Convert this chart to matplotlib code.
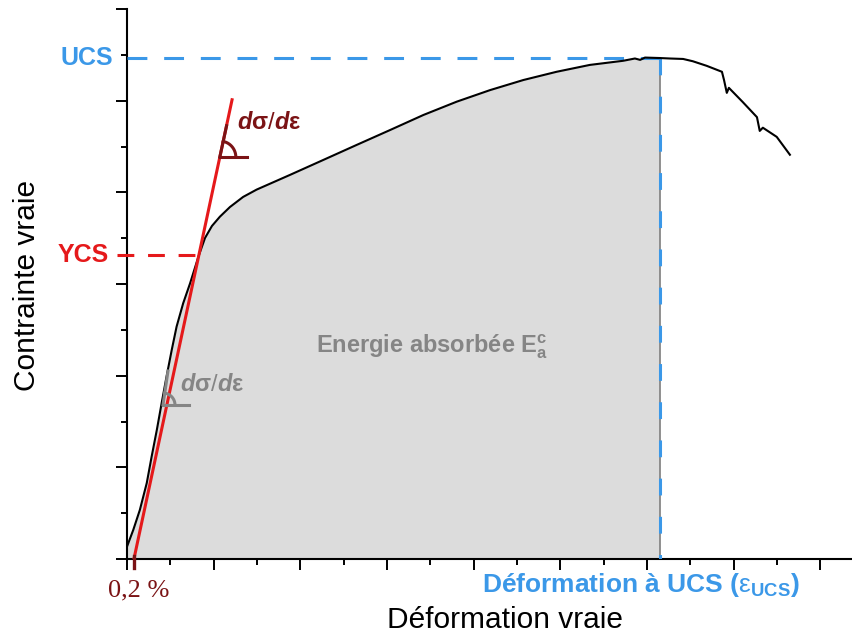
import numpy as np
import matplotlib.pyplot as plt
from matplotlib.ticker import MultipleLocator

plt.rcParams['font.family'] = ['Liberation Sans', 'DejaVu Sans']
plt.rcParams['mathtext.fontset'] = 'custom'
plt.rcParams['mathtext.rm'] = 'Liberation Sans'
plt.rcParams['mathtext.it'] = 'Liberation Sans:italic'
plt.rcParams['mathtext.bf'] = 'Liberation Sans:bold'
plt.rcParams['mathtext.bfit'] = 'Liberation Sans:italic:bold'

# courbe contrainte-deformation
strain = [0.0, 0.0018, 0.0037, 0.0057, 0.0071, 0.0086, 0.0100, 0.0114, 0.0129, 0.0143,
          0.0162, 0.0182, 0.0206, 0.0225, 0.0245, 0.0268, 0.0297, 0.0335, 0.0374, 0.0470,
          0.0566, 0.0662, 0.0759, 0.0855, 0.0951, 0.1047, 0.1143, 0.1239, 0.1335, 0.1431,
          0.1465, 0.1480, 0.1494, 0.1537, 0.1566, 0.1604, 0.1632, 0.1672, 0.1716, 0.1722,
          0.1730, 0.1736, 0.1776, 0.1817, 0.1825, 0.1834, 0.1874, 0.1912]
stress = [2.7, 6.33, 10.69, 16.58, 22.32, 28.15, 34.04, 39.78, 45.6, 50.69,
          55.79, 60.16, 65.96, 70.04, 72.66, 74.69, 76.8, 79.0, 80.6, 83.8,
          87.06, 90.33, 93.6, 96.88, 99.78, 102.3, 104.5, 106.3, 107.8, 108.7,
          109.2, 108.9, 109.4, 109.3, 109.2, 109.1, 108.6, 107.6, 106.3, 104.5,
          101.7, 102.8, 99.7, 96.4, 93.4, 94.1, 92.1, 88.2]

eps_offset = 0.002      # 0,2 %
E_tangent = 3540        # pente de la droite
tangent_top = 100.2
ycs = 66.3
ucs = 109.3
eps_ucs = 0.1537

red = '#e5191b'
dark_red = '#7b1315'
blue = '#3b98e8'
grey = '#858585'

strain = np.array(strain)
stress = np.array(stress)

fig = plt.figure(figsize=(8.53, 6.34), dpi=100)
ax = fig.add_axes([127/853, 75/634, 726/853, 550/634])
ax.set_xlim(0, 0.2094)
ax.set_ylim(0, 120)

# echelle px -> donnees (pour les petits symboles d'angle)
sx = 0.025 / 86.7
sy = 20 / 91.67

# aire sous la courbe
m = strain <= eps_ucs
ax.fill_between(strain[m], stress[m], color='#dcdcdc', lw=0, zorder=1)
ax.plot([eps_ucs, eps_ucs], [0, ucs], color='#7f7f7f', lw=1.2, zorder=2)

# courbe
ax.plot(strain, stress, color='black', lw=1.5, zorder=4, solid_joinstyle='round')

# droite a 0,2 %
x_top = eps_offset + tangent_top / E_tangent
ax.plot([eps_offset, x_top], [0, tangent_top], color=red, lw=2.2, zorder=5)
x_ycs = eps_offset + ycs / E_tangent
ax.plot([-0.0029, x_ycs], [ycs, ycs], color=red, lw=2.2, dashes=(5.5, 4.5), clip_on=False, zorder=5)
ax.plot([eps_offset, eps_offset], [0.6, -2.0], color=dark_red, lw=2.4, clip_on=False, zorder=6)

# UCS
ax.plot([0, eps_ucs], [ucs, ucs], color=blue, lw=2.2, dashes=(6.5, 5.5), zorder=3)
ax.plot([eps_ucs, eps_ucs], [ucs, 0], color=blue, lw=2.2, dashes=(5.5, 7), zorder=3)


def angle_mark(x0, y0, ang, l_up, l_h, r, color):
    a = np.deg2rad(ang)
    ax.plot([x0, x0 + l_up*np.cos(a)*sx], [y0, y0 + l_up*np.sin(a)*sy], color=color, lw=2.2, zorder=6)
    ax.plot([x0, x0 + l_h*sx], [y0, y0], color=color, lw=2.2, zorder=6)
    t = np.linspace(0, a, 20)
    ax.plot(x0 + r*np.cos(t)*sx, y0 + r*np.sin(t)*sy, color=color, lw=2.2, zorder=6)


y_mark = 87.7
angle_mark(eps_offset + y_mark / E_tangent, y_mark, 77.8, 32, 27, 16, dark_red)
angle_mark(0.01038, 33.6, 81.6, 34.4, 26, 12, grey)

ax.text(0.0317, 95.1, r'$\mathbfit{d}\mathbf{σ}/\mathbfit{d}\mathbf{ε}$', color=dark_red,
        fontsize=17, ha='left', va='center', zorder=7)
ax.text(0.0153, 38.0, r'$\mathbfit{d}\mathbf{σ}/\mathbfit{d}\mathbf{ε}$', color=grey,
        fontsize=17, ha='left', va='center', zorder=7)
ax.text(0.0545, 44.95, r'Energie absorbée $\mathbf{E}_{\mathbf{a}}^{\mathbf{c}}$', color=grey,
        fontsize=17, fontweight='bold', ha='left', va='baseline', zorder=7)

# axes
for s in ['top', 'right']:
    ax.spines[s].set_visible(False)
for s in ['left', 'bottom']:
    ax.spines[s].set_linewidth(1.5)
ax.xaxis.set_major_locator(MultipleLocator(0.025))
ax.xaxis.set_minor_locator(MultipleLocator(0.0125))
ax.yaxis.set_major_locator(MultipleLocator(20))
ax.yaxis.set_minor_locator(MultipleLocator(10))
ax.tick_params(which='major', length=8, width=1.4, direction='out')
ax.tick_params(which='minor', length=4.5, width=1.4, direction='out')
ax.tick_params(labelbottom=False, labelleft=False)

W, H = 853, 634
fig.text(113/W, 1 - 58/H, 'UCS', color=blue, fontsize=18, fontweight='bold', ha='right', va='center')
fig.text(109/W, 1 - 255/H, 'YCS', color=red, fontsize=18, fontweight='bold', ha='right', va='center')
fig.text(139/W, 1 - 590/H, '0,2 %', color=dark_red, fontsize=19, family='Liberation Serif',
         ha='center', va='center')
fig.text(482/W, 1 - 592/H, r'Déformation à UCS ($\mathrm{ε}_{\mathbf{UCS}}$)', color=blue,
         fontsize=19, fontweight='bold', ha='left', va='baseline')
fig.text(505/W, 1 - 628/H, 'Déformation vraie', fontsize=21.5, ha='center', va='baseline')
fig.text(27/W, 1 - 285/H, 'Contrainte vraie', fontsize=21.5, rotation=90, ha='center', va='center')

fig.savefig('out.png', dpi=100)
